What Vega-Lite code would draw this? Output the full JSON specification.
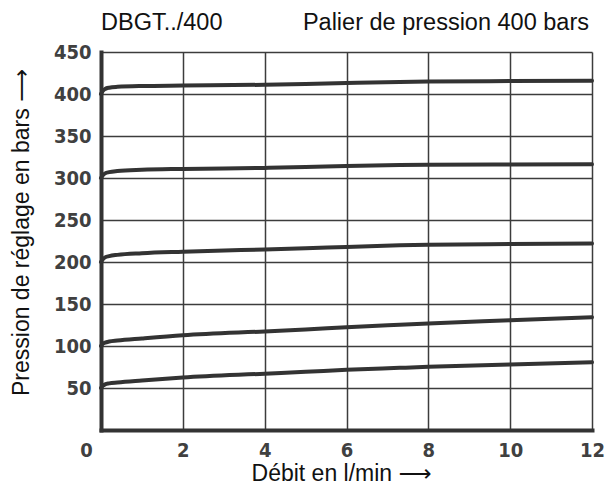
{
  "$schema": "https://vega.github.io/schema/vega-lite/v6.json",
  "width": 491,
  "height": 378,
  "autosize": {"type": "none"},
  "padding": {"left": 101, "top": 52, "right": 14, "bottom": 56},
  "background": "white",
  "config": {
    "view": {"stroke": null},
    "font": "Liberation Sans, DejaVu Sans"
  },
  "datasets": {
    "curves": [
      {"setting": 400, "flow": 0, "pressure": 400},
      {"setting": 400, "flow": 0.04, "pressure": 403.5},
      {"setting": 400, "flow": 0.1, "pressure": 406},
      {"setting": 400, "flow": 0.2, "pressure": 407.5},
      {"setting": 400, "flow": 0.4, "pressure": 408.5},
      {"setting": 400, "flow": 1, "pressure": 409.5},
      {"setting": 400, "flow": 2, "pressure": 410},
      {"setting": 400, "flow": 4, "pressure": 411},
      {"setting": 400, "flow": 5, "pressure": 412},
      {"setting": 400, "flow": 6, "pressure": 413},
      {"setting": 400, "flow": 7.3, "pressure": 414.3},
      {"setting": 400, "flow": 8, "pressure": 414.8},
      {"setting": 400, "flow": 10, "pressure": 415.4},
      {"setting": 400, "flow": 12, "pressure": 415.8},
      {"setting": 300, "flow": 0, "pressure": 300},
      {"setting": 300, "flow": 0.04, "pressure": 303},
      {"setting": 300, "flow": 0.1, "pressure": 305.5},
      {"setting": 300, "flow": 0.2, "pressure": 307},
      {"setting": 300, "flow": 0.4, "pressure": 308.3},
      {"setting": 300, "flow": 1, "pressure": 309.8},
      {"setting": 300, "flow": 2, "pressure": 310.8},
      {"setting": 300, "flow": 4, "pressure": 312},
      {"setting": 300, "flow": 5, "pressure": 313},
      {"setting": 300, "flow": 6, "pressure": 314.2},
      {"setting": 300, "flow": 7.3, "pressure": 315.4},
      {"setting": 300, "flow": 8, "pressure": 315.8},
      {"setting": 300, "flow": 10, "pressure": 316.2},
      {"setting": 300, "flow": 12, "pressure": 316.4},
      {"setting": 200, "flow": 0, "pressure": 200},
      {"setting": 200, "flow": 0.04, "pressure": 203},
      {"setting": 200, "flow": 0.1, "pressure": 205.5},
      {"setting": 200, "flow": 0.2, "pressure": 207},
      {"setting": 200, "flow": 0.4, "pressure": 208.5},
      {"setting": 200, "flow": 1, "pressure": 210.5},
      {"setting": 200, "flow": 2, "pressure": 212.3},
      {"setting": 200, "flow": 4, "pressure": 215},
      {"setting": 200, "flow": 5, "pressure": 216.3},
      {"setting": 200, "flow": 6, "pressure": 218},
      {"setting": 200, "flow": 7.3, "pressure": 219.8},
      {"setting": 200, "flow": 8, "pressure": 220.4},
      {"setting": 200, "flow": 10, "pressure": 221.3},
      {"setting": 200, "flow": 12, "pressure": 222},
      {"setting": 100, "flow": 0, "pressure": 100},
      {"setting": 100, "flow": 0.04, "pressure": 102.5},
      {"setting": 100, "flow": 0.1, "pressure": 104},
      {"setting": 100, "flow": 0.2, "pressure": 105.3},
      {"setting": 100, "flow": 0.4, "pressure": 106.5},
      {"setting": 100, "flow": 1, "pressure": 109},
      {"setting": 100, "flow": 2, "pressure": 112.8},
      {"setting": 100, "flow": 4, "pressure": 117.3},
      {"setting": 100, "flow": 5, "pressure": 119.5},
      {"setting": 100, "flow": 6, "pressure": 122.4},
      {"setting": 100, "flow": 7.3, "pressure": 125.4},
      {"setting": 100, "flow": 8, "pressure": 126.9},
      {"setting": 100, "flow": 10, "pressure": 130.6},
      {"setting": 100, "flow": 12, "pressure": 134.3},
      {"setting": 50, "flow": 0, "pressure": 50},
      {"setting": 50, "flow": 0.04, "pressure": 52.5},
      {"setting": 50, "flow": 0.1, "pressure": 54.3},
      {"setting": 50, "flow": 0.2, "pressure": 55.5},
      {"setting": 50, "flow": 0.4, "pressure": 56.6},
      {"setting": 50, "flow": 1, "pressure": 59},
      {"setting": 50, "flow": 2, "pressure": 62.5},
      {"setting": 50, "flow": 4, "pressure": 67},
      {"setting": 50, "flow": 5, "pressure": 69.2},
      {"setting": 50, "flow": 6, "pressure": 71.7},
      {"setting": 50, "flow": 7.3, "pressure": 74},
      {"setting": 50, "flow": 8, "pressure": 75.2},
      {"setting": 50, "flow": 10, "pressure": 78},
      {"setting": 50, "flow": 12, "pressure": 80.8}
    ]
  },
  "layer": [
    {
      "data": {"name": "curves"},
      "mark": {
        "type": "line",
        "interpolate": "monotone",
        "stroke": "#333333",
        "strokeWidth": 4,
        "strokeCap": "round",
        "clip": false
      },
      "encoding": {
        "x": {
          "field": "flow",
          "type": "quantitative",
          "scale": {"domain": [0, 12], "nice": false, "zero": false},
          "axis": {
            "title": "Débit en l/min ⟶",
            "titleFont": "Liberation Sans, DejaVu Sans",
            "titleFontSize": 23,
            "titleFontWeight": "normal",
            "titleColor": "#111111",
            "titleBaseline": "alphabetic",
            "titleX": 240,
            "titleY": 50,
            "values": [0, 2, 4, 6, 8, 10, 12],
            "labelFont": "DejaVu Sans Condensed, DejaVu Sans",
            "labelFontSize": 20,
            "labelFontWeight": "bold",
            "labelColor": "#404040",
            "labelPadding": 10,
            "labelFlush": false,
            "labelOverlap": false,
            "labelBound": false,
            "labelOffset": {"condition": {"test": "datum.value === 0", "value": -15}, "value": 0},
            "ticks": false,
            "domain": true,
            "domainColor": "#333333",
            "domainWidth": 4,
            "domainCap": "square",
            "grid": true,
            "gridColor": "#3c3c3c",
            "gridWidth": 1.5,
            "gridOpacity": 1
          }
        },
        "y": {
          "field": "pressure",
          "type": "quantitative",
          "scale": {"domain": [0, 450], "nice": false},
          "axis": {
            "title": "Pression de réglage en bars ⟶",
            "titleFont": "Liberation Sans, DejaVu Sans",
            "titleFontSize": 23,
            "titleFontWeight": "normal",
            "titleColor": "#111111",
            "titleBaseline": "alphabetic",
            "titleX": -73,
            "titleY": 180,
            "values": [50, 100, 150, 200, 250, 300, 350, 400, 450],
            "labelFont": "DejaVu Sans Condensed, DejaVu Sans",
            "labelFontSize": 20,
            "labelFontWeight": "bold",
            "labelColor": "#404040",
            "labelPadding": 10,
            "labelFlush": false,
            "labelOverlap": false,
            "labelBound": false,
            "ticks": false,
            "domain": true,
            "domainColor": "#333333",
            "domainWidth": 4,
            "domainCap": "square",
            "grid": true,
            "gridColor": "#3c3c3c",
            "gridWidth": 1.5,
            "gridOpacity": 1
          }
        },
        "detail": {"field": "setting", "type": "nominal"}
      }
    },
    {
      "data": {"values": [{"label": "DBGT../400"}]},
      "mark": {
        "type": "text",
        "align": "left",
        "baseline": "alphabetic",
        "dx": 0,
        "dy": -22,
        "font": "Liberation Sans",
        "fontSize": 23.5,
        "color": "#111111",
        "clip": false
      },
      "encoding": {
        "x": {"datum": 0, "type": "quantitative"},
        "y": {"datum": 450, "type": "quantitative"},
        "text": {"field": "label"}
      }
    },
    {
      "data": {"values": [{"label": "Palier de pression 400 bars"}]},
      "mark": {
        "type": "text",
        "align": "right",
        "baseline": "alphabetic",
        "dx": -3,
        "dy": -22,
        "font": "Liberation Sans",
        "fontSize": 23.5,
        "color": "#111111",
        "clip": false
      },
      "encoding": {
        "x": {"datum": 12, "type": "quantitative"},
        "y": {"datum": 450, "type": "quantitative"},
        "text": {"field": "label"}
      }
    }
  ]
}
